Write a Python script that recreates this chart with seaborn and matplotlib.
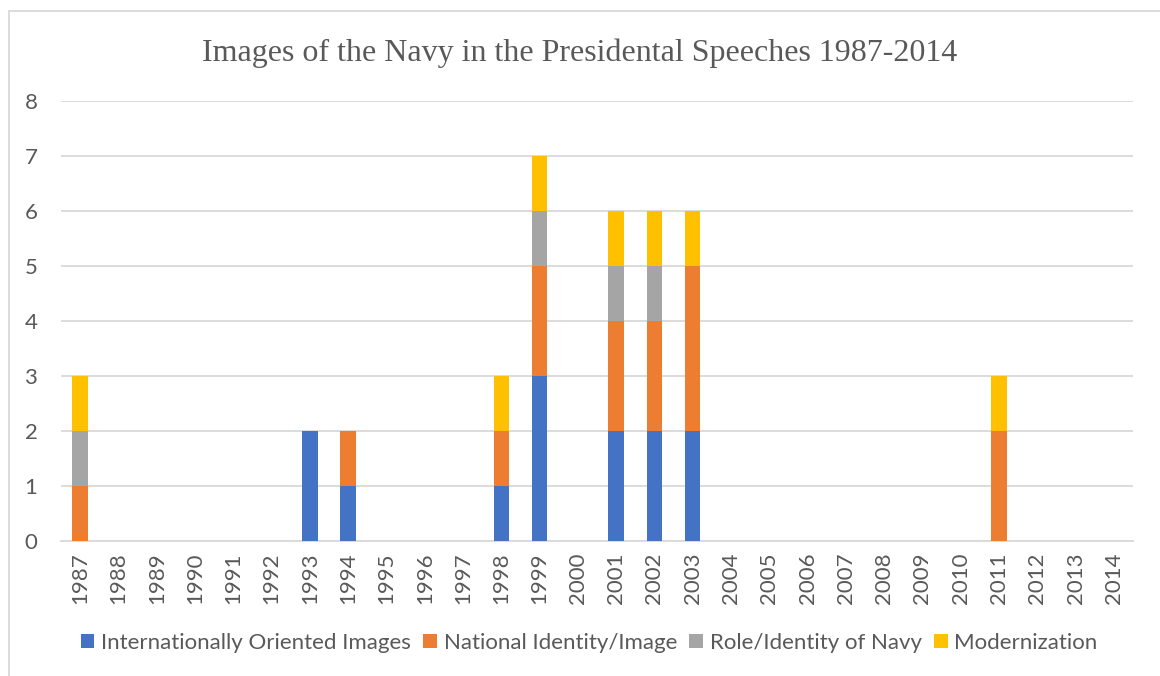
import numpy as np
import pandas as pd
import matplotlib
matplotlib.use("Agg")
import matplotlib.pyplot as plt
from matplotlib.lines import Line2D
from matplotlib.patches import Patch
import seaborn as sns

years = [str(y) for y in range(1987, 2015)]
series_names = ["Internationally Oriented Images", "National Identity/Image",
                "Role/Identity of Navy", "Modernization"]
international = [0, 0, 0, 0, 0, 0, 2, 1, 0, 0, 0, 1, 3, 0, 2, 2, 2, 0, 0, 0, 0, 0, 0, 0, 0, 0, 0, 0]
national      = [1, 0, 0, 0, 0, 0, 0, 1, 0, 0, 0, 1, 2, 0, 2, 2, 3, 0, 0, 0, 0, 0, 0, 0, 2, 0, 0, 0]
role          = [1, 0, 0, 0, 0, 0, 0, 0, 0, 0, 0, 0, 1, 0, 1, 1, 0, 0, 0, 0, 0, 0, 0, 0, 0, 0, 0, 0]
modernization = [1, 0, 0, 0, 0, 0, 0, 0, 0, 0, 0, 1, 1, 0, 1, 1, 1, 0, 0, 0, 0, 0, 0, 0, 1, 0, 0, 0]
colors = ["#4472C4", "#ED7D31", "#A5A5A5", "#FFC000"]

title = "Images of the Navy in the Presidental Speeches 1987-2014"

sns.set_style("white")
plt.rcParams["font.family"] = ["Lato", "DejaVu Sans"]

df = pd.DataFrame({"year": years,
                   series_names[0]: international,
                   series_names[1]: national,
                   series_names[2]: role,
                   series_names[3]: modernization})
cum = df[series_names].cumsum(axis=1)

fig = plt.figure(figsize=(11.6, 6.76), dpi=100)
ax = fig.add_axes([61 / 1160, 1 - 541 / 676, (1133 - 61) / 1160, (541 - 101) / 676])

# stacked bars: draw cumulative totals from the top layer down
for name, color in zip(reversed(series_names), reversed(colors)):
    sns.barplot(x=df["year"], y=cum[name], color=color, width=0.4,
                order=years, ax=ax, saturation=1, linewidth=0, zorder=3)

ax.set_xlim(-0.5, len(years) - 0.5)
ax.set_ylim(0, 8)
ax.set_yticks(range(0, 9))
ax.grid(axis="y", color="#D9D9D9", linewidth=1.3, zorder=0)
ax.set_axisbelow(True)
for s in ["top", "right", "left"]:
    ax.spines[s].set_visible(False)
ax.spines["bottom"].set_color("#D9D9D9")
ax.spines["bottom"].set_linewidth(1.3)
ax.set_xlabel("")
ax.set_ylabel("")
ax.tick_params(axis="x", rotation=90, length=0, pad=8, labelsize=16, labelcolor="#595959")
ax.tick_params(axis="y", length=0, pad=17, labelsize=16, labelcolor="#595959")

fig.text(0.5, 1 - 53 / 676, title, ha="center", va="center",
         family="Liberation Serif", fontsize=23, color="#595959")

handles = [Patch(facecolor=c, edgecolor="none") for c in colors]
fig.legend(handles, series_names, loc="center", bbox_to_anchor=(0.5 + 9 / 1160, 1 - 643 / 676),
           ncol=4, frameon=False, fontsize=16, labelcolor="#595959",
           handlelength=0.62, handleheight=0.62, handletextpad=0.3, columnspacing=0.55)

# chart frame
fig.add_artist(Line2D([9 / 1160, 1.0], [1 - 11 / 676, 1 - 11 / 676], color="#D9D9D9", linewidth=1.3))
fig.add_artist(Line2D([9 / 1160, 9 / 1160], [0, 1 - 11 / 676], color="#D9D9D9", linewidth=1.3))

fig.savefig("out.png", dpi=100)
